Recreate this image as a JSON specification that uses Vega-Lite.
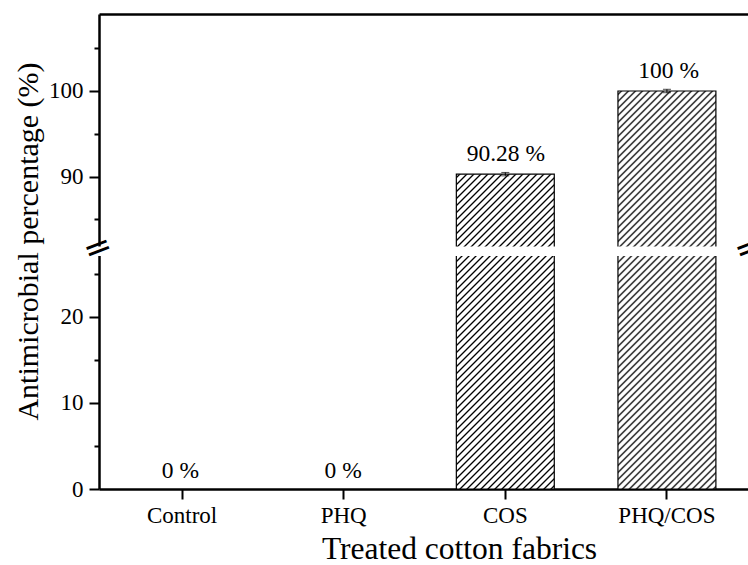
{
  "$schema": "https://vega.github.io/schema/vega-lite/v6.json",
  "width": 651,
  "height": 475,
  "autosize": {"type": "none"},
  "padding": {"left": 99, "top": 14, "right": 0, "bottom": 76},
  "background": "white",
  "config": {
    "view": {"stroke": null},
    "font": "Liberation Serif",
    "axis": {"labelFont": "Liberation Serif", "titleFont": "Liberation Serif", "labelColor": "black", "titleColor": "black", "titleFontWeight": "normal", "domainColor": "black", "tickColor": "black", "grid": false}
  },
  "data": {"values": [
    {"fabric": "Control", "value": 0, "lo": 0, "hi": 0, "label": "0 %"},
    {"fabric": "PHQ", "value": 0, "lo": 0, "hi": 0, "label": "0 %"},
    {"fabric": "COS", "value": 90.28, "lo": 90.08, "hi": 90.48, "label": "90.28 %"},
    {"fabric": "PHQ/COS", "value": 100, "lo": 99.8, "hi": 100.2, "label": "100 %"}
  ]},
  "layer": [
    {
      "transform": [{"filter": "datum.fabric === 'COS'"}],
      "mark": {"type": "bar", "stroke": "black", "strokeWidth": 1.2, "fill": {"gradient": "linear", "x1": 0, "y1": 0, "x2": 0.37822, "y2": 1.21636, "stops": [
        {"offset":0.0040,"color":"#fff"},{"offset":0.0083,"color":"#000"},{"offset":0.0126,"color":"#fff"},
        {"offset":0.0207,"color":"#fff"},{"offset":0.025,"color":"#000"},{"offset":0.0293,"color":"#fff"},
        {"offset":0.0374,"color":"#fff"},{"offset":0.0417,"color":"#000"},{"offset":0.0460,"color":"#fff"},
        {"offset":0.0540,"color":"#fff"},{"offset":0.0583,"color":"#000"},{"offset":0.0626,"color":"#fff"},
        {"offset":0.0707,"color":"#fff"},{"offset":0.075,"color":"#000"},{"offset":0.0793,"color":"#fff"},
        {"offset":0.0874,"color":"#fff"},{"offset":0.0917,"color":"#000"},{"offset":0.0960,"color":"#fff"},
        {"offset":0.1040,"color":"#fff"},{"offset":0.1083,"color":"#000"},{"offset":0.1126,"color":"#fff"},
        {"offset":0.1207,"color":"#fff"},{"offset":0.125,"color":"#000"},{"offset":0.1293,"color":"#fff"},
        {"offset":0.1374,"color":"#fff"},{"offset":0.1417,"color":"#000"},{"offset":0.1460,"color":"#fff"},
        {"offset":0.1540,"color":"#fff"},{"offset":0.1583,"color":"#000"},{"offset":0.1626,"color":"#fff"},
        {"offset":0.1707,"color":"#fff"},{"offset":0.175,"color":"#000"},{"offset":0.1793,"color":"#fff"},
        {"offset":0.1874,"color":"#fff"},{"offset":0.1917,"color":"#000"},{"offset":0.1960,"color":"#fff"},
        {"offset":0.2040,"color":"#fff"},{"offset":0.2083,"color":"#000"},{"offset":0.2126,"color":"#fff"},
        {"offset":0.2207,"color":"#fff"},{"offset":0.225,"color":"#000"},{"offset":0.2293,"color":"#fff"},
        {"offset":0.2374,"color":"#fff"},{"offset":0.2417,"color":"#000"},{"offset":0.2460,"color":"#fff"},
        {"offset":0.2540,"color":"#fff"},{"offset":0.2583,"color":"#000"},{"offset":0.2626,"color":"#fff"},
        {"offset":0.2707,"color":"#fff"},{"offset":0.275,"color":"#000"},{"offset":0.2793,"color":"#fff"},
        {"offset":0.2874,"color":"#fff"},{"offset":0.2917,"color":"#000"},{"offset":0.2960,"color":"#fff"},
        {"offset":0.3040,"color":"#fff"},{"offset":0.3083,"color":"#000"},{"offset":0.3126,"color":"#fff"},
        {"offset":0.3207,"color":"#fff"},{"offset":0.325,"color":"#000"},{"offset":0.3293,"color":"#fff"},
        {"offset":0.3374,"color":"#fff"},{"offset":0.3417,"color":"#000"},{"offset":0.3460,"color":"#fff"},
        {"offset":0.3540,"color":"#fff"},{"offset":0.3583,"color":"#000"},{"offset":0.3626,"color":"#fff"},
        {"offset":0.3707,"color":"#fff"},{"offset":0.375,"color":"#000"},{"offset":0.3793,"color":"#fff"},
        {"offset":0.3874,"color":"#fff"},{"offset":0.3917,"color":"#000"},{"offset":0.3960,"color":"#fff"},
        {"offset":0.4040,"color":"#fff"},{"offset":0.4083,"color":"#000"},{"offset":0.4126,"color":"#fff"},
        {"offset":0.4207,"color":"#fff"},{"offset":0.425,"color":"#000"},{"offset":0.4293,"color":"#fff"},
        {"offset":0.4374,"color":"#fff"},{"offset":0.4417,"color":"#000"},{"offset":0.4460,"color":"#fff"},
        {"offset":0.4540,"color":"#fff"},{"offset":0.4583,"color":"#000"},{"offset":0.4626,"color":"#fff"},
        {"offset":0.4707,"color":"#fff"},{"offset":0.475,"color":"#000"},{"offset":0.4793,"color":"#fff"},
        {"offset":0.4874,"color":"#fff"},{"offset":0.4917,"color":"#000"},{"offset":0.4960,"color":"#fff"},
        {"offset":0.5040,"color":"#fff"},{"offset":0.5083,"color":"#000"},{"offset":0.5126,"color":"#fff"},
        {"offset":0.5207,"color":"#fff"},{"offset":0.525,"color":"#000"},{"offset":0.5293,"color":"#fff"},
        {"offset":0.5374,"color":"#fff"},{"offset":0.5417,"color":"#000"},{"offset":0.5460,"color":"#fff"},
        {"offset":0.5540,"color":"#fff"},{"offset":0.5583,"color":"#000"},{"offset":0.5626,"color":"#fff"},
        {"offset":0.5707,"color":"#fff"},{"offset":0.575,"color":"#000"},{"offset":0.5793,"color":"#fff"},
        {"offset":0.5874,"color":"#fff"},{"offset":0.5917,"color":"#000"},{"offset":0.5960,"color":"#fff"},
        {"offset":0.6040,"color":"#fff"},{"offset":0.6083,"color":"#000"},{"offset":0.6126,"color":"#fff"},
        {"offset":0.6207,"color":"#fff"},{"offset":0.625,"color":"#000"},{"offset":0.6293,"color":"#fff"},
        {"offset":0.6374,"color":"#fff"},{"offset":0.6417,"color":"#000"},{"offset":0.6460,"color":"#fff"},
        {"offset":0.6540,"color":"#fff"},{"offset":0.6583,"color":"#000"},{"offset":0.6626,"color":"#fff"},
        {"offset":0.6707,"color":"#fff"},{"offset":0.675,"color":"#000"},{"offset":0.6793,"color":"#fff"},
        {"offset":0.6874,"color":"#fff"},{"offset":0.6917,"color":"#000"},{"offset":0.6960,"color":"#fff"},
        {"offset":0.7040,"color":"#fff"},{"offset":0.7083,"color":"#000"},{"offset":0.7126,"color":"#fff"},
        {"offset":0.7207,"color":"#fff"},{"offset":0.725,"color":"#000"},{"offset":0.7293,"color":"#fff"},
        {"offset":0.7374,"color":"#fff"},{"offset":0.7417,"color":"#000"},{"offset":0.7460,"color":"#fff"},
        {"offset":0.7540,"color":"#fff"},{"offset":0.7583,"color":"#000"},{"offset":0.7626,"color":"#fff"},
        {"offset":0.7707,"color":"#fff"},{"offset":0.775,"color":"#000"},{"offset":0.7793,"color":"#fff"},
        {"offset":0.7874,"color":"#fff"},{"offset":0.7917,"color":"#000"},{"offset":0.7960,"color":"#fff"},
        {"offset":0.8040,"color":"#fff"},{"offset":0.8083,"color":"#000"},{"offset":0.8126,"color":"#fff"},
        {"offset":0.8207,"color":"#fff"},{"offset":0.825,"color":"#000"},{"offset":0.8293,"color":"#fff"},
        {"offset":0.8374,"color":"#fff"},{"offset":0.8417,"color":"#000"},{"offset":0.8460,"color":"#fff"},
        {"offset":0.8540,"color":"#fff"},{"offset":0.8583,"color":"#000"},{"offset":0.8626,"color":"#fff"},
        {"offset":0.8707,"color":"#fff"},{"offset":0.875,"color":"#000"},{"offset":0.8793,"color":"#fff"},
        {"offset":0.8874,"color":"#fff"},{"offset":0.8917,"color":"#000"},{"offset":0.8960,"color":"#fff"},
        {"offset":0.9040,"color":"#fff"},{"offset":0.9083,"color":"#000"},{"offset":0.9126,"color":"#fff"},
        {"offset":0.9207,"color":"#fff"},{"offset":0.925,"color":"#000"},{"offset":0.9293,"color":"#fff"},
        {"offset":0.9374,"color":"#fff"},{"offset":0.9417,"color":"#000"},{"offset":0.9460,"color":"#fff"},
        {"offset":0.9540,"color":"#fff"},{"offset":0.9583,"color":"#000"},{"offset":0.9626,"color":"#fff"},
        {"offset":0.9707,"color":"#fff"},{"offset":0.975,"color":"#000"},{"offset":0.9793,"color":"#fff"},
        {"offset":0.9874,"color":"#fff"},{"offset":0.9917,"color":"#000"},{"offset":0.9960,"color":"#fff"}
      ]}},
      "encoding": {
        "x": {"field": "fabric", "type": "nominal", "sort": null,
              "scale": {"domain": ["Control", "PHQ", "COS", "PHQ/COS"], "paddingInner": 0.394, "paddingOuter": 0.211},
              "axis": {"orient": "bottom", "title": "Treated cotton fabrics", "labelAngle": 0, "tickSize": 10, "tickWidth": 2, "domainWidth": 2.5, "labelFontSize": 23, "labelPadding": 5, "titleFontSize": 31.5, "titlePadding": 6, "titleX": 360}},
        "y": {"field": "value", "type": "quantitative",
              "scale": {"domain": [0, 27.3, 81.59, 109], "range": [475, 240, 234.5, 0], "zero": false, "nice": false},
              "axis": {"orient": "left", "values": [0, 5, 10, 15, 20, 25, 85, 90, 95, 100, 105],
                       "labelExpr": "datum.value % 10 === 0 ? datum.label : ''",
                       "tickSize": {"condition": {"test": "datum.value % 10 === 0", "value": 10}, "value": 5},
                       "tickWidth": 2, "domainWidth": 2.5, "labelFontSize": 23, "labelPadding": 6,
                       "title": "Antimicrobial percentage (%)", "titleFontSize": 30, "titlePadding": 5, "titleY": 227}}
      }
    },
    {
      "transform": [{"filter": "datum.fabric === 'PHQ/COS'"}],
      "mark": {"type": "bar", "stroke": "black", "strokeWidth": 1.2, "fill": {"gradient": "linear", "x1": 0, "y1": 0, "x2": 0.29372, "y2": 1.19408, "stops": [
        {"offset":0.00337,"color":"#fff"},{"offset":0.00694,"color":"#000"},{"offset":0.01052,"color":"#fff"},
        {"offset":0.01726,"color":"#fff"},{"offset":0.02083,"color":"#000"},{"offset":0.0244,"color":"#fff"},
        {"offset":0.03115,"color":"#fff"},{"offset":0.03472,"color":"#000"},{"offset":0.03829,"color":"#fff"},
        {"offset":0.04504,"color":"#fff"},{"offset":0.04861,"color":"#000"},{"offset":0.05218,"color":"#fff"},
        {"offset":0.05893,"color":"#fff"},{"offset":0.0625,"color":"#000"},{"offset":0.06607,"color":"#fff"},
        {"offset":0.07282,"color":"#fff"},{"offset":0.07639,"color":"#000"},{"offset":0.07996,"color":"#fff"},
        {"offset":0.08671,"color":"#fff"},{"offset":0.09028,"color":"#000"},{"offset":0.09385,"color":"#fff"},
        {"offset":0.1006,"color":"#fff"},{"offset":0.10417,"color":"#000"},{"offset":0.10774,"color":"#fff"},
        {"offset":0.11449,"color":"#fff"},{"offset":0.11806,"color":"#000"},{"offset":0.12163,"color":"#fff"},
        {"offset":0.12837,"color":"#fff"},{"offset":0.13194,"color":"#000"},{"offset":0.13552,"color":"#fff"},
        {"offset":0.14226,"color":"#fff"},{"offset":0.14583,"color":"#000"},{"offset":0.1494,"color":"#fff"},
        {"offset":0.15615,"color":"#fff"},{"offset":0.15972,"color":"#000"},{"offset":0.16329,"color":"#fff"},
        {"offset":0.17004,"color":"#fff"},{"offset":0.17361,"color":"#000"},{"offset":0.17718,"color":"#fff"},
        {"offset":0.18393,"color":"#fff"},{"offset":0.1875,"color":"#000"},{"offset":0.19107,"color":"#fff"},
        {"offset":0.19782,"color":"#fff"},{"offset":0.20139,"color":"#000"},{"offset":0.20496,"color":"#fff"},
        {"offset":0.21171,"color":"#fff"},{"offset":0.21528,"color":"#000"},{"offset":0.21885,"color":"#fff"},
        {"offset":0.2256,"color":"#fff"},{"offset":0.22917,"color":"#000"},{"offset":0.23274,"color":"#fff"},
        {"offset":0.23949,"color":"#fff"},{"offset":0.24306,"color":"#000"},{"offset":0.24663,"color":"#fff"},
        {"offset":0.25337,"color":"#fff"},{"offset":0.25694,"color":"#000"},{"offset":0.26052,"color":"#fff"},
        {"offset":0.26726,"color":"#fff"},{"offset":0.27083,"color":"#000"},{"offset":0.2744,"color":"#fff"},
        {"offset":0.28115,"color":"#fff"},{"offset":0.28472,"color":"#000"},{"offset":0.28829,"color":"#fff"},
        {"offset":0.29504,"color":"#fff"},{"offset":0.29861,"color":"#000"},{"offset":0.30218,"color":"#fff"},
        {"offset":0.30893,"color":"#fff"},{"offset":0.3125,"color":"#000"},{"offset":0.31607,"color":"#fff"},
        {"offset":0.32282,"color":"#fff"},{"offset":0.32639,"color":"#000"},{"offset":0.32996,"color":"#fff"},
        {"offset":0.33671,"color":"#fff"},{"offset":0.34028,"color":"#000"},{"offset":0.34385,"color":"#fff"},
        {"offset":0.3506,"color":"#fff"},{"offset":0.35417,"color":"#000"},{"offset":0.35774,"color":"#fff"},
        {"offset":0.36449,"color":"#fff"},{"offset":0.36806,"color":"#000"},{"offset":0.37163,"color":"#fff"},
        {"offset":0.37837,"color":"#fff"},{"offset":0.38194,"color":"#000"},{"offset":0.38552,"color":"#fff"},
        {"offset":0.39226,"color":"#fff"},{"offset":0.39583,"color":"#000"},{"offset":0.3994,"color":"#fff"},
        {"offset":0.40615,"color":"#fff"},{"offset":0.40972,"color":"#000"},{"offset":0.41329,"color":"#fff"},
        {"offset":0.42004,"color":"#fff"},{"offset":0.42361,"color":"#000"},{"offset":0.42718,"color":"#fff"},
        {"offset":0.43393,"color":"#fff"},{"offset":0.4375,"color":"#000"},{"offset":0.44107,"color":"#fff"},
        {"offset":0.44782,"color":"#fff"},{"offset":0.45139,"color":"#000"},{"offset":0.45496,"color":"#fff"},
        {"offset":0.46171,"color":"#fff"},{"offset":0.46528,"color":"#000"},{"offset":0.46885,"color":"#fff"},
        {"offset":0.4756,"color":"#fff"},{"offset":0.47917,"color":"#000"},{"offset":0.48274,"color":"#fff"},
        {"offset":0.48949,"color":"#fff"},{"offset":0.49306,"color":"#000"},{"offset":0.49663,"color":"#fff"},
        {"offset":0.50337,"color":"#fff"},{"offset":0.50694,"color":"#000"},{"offset":0.51052,"color":"#fff"},
        {"offset":0.51726,"color":"#fff"},{"offset":0.52083,"color":"#000"},{"offset":0.5244,"color":"#fff"},
        {"offset":0.53115,"color":"#fff"},{"offset":0.53472,"color":"#000"},{"offset":0.53829,"color":"#fff"},
        {"offset":0.54504,"color":"#fff"},{"offset":0.54861,"color":"#000"},{"offset":0.55218,"color":"#fff"},
        {"offset":0.55893,"color":"#fff"},{"offset":0.5625,"color":"#000"},{"offset":0.56607,"color":"#fff"},
        {"offset":0.57282,"color":"#fff"},{"offset":0.57639,"color":"#000"},{"offset":0.57996,"color":"#fff"},
        {"offset":0.58671,"color":"#fff"},{"offset":0.59028,"color":"#000"},{"offset":0.59385,"color":"#fff"},
        {"offset":0.6006,"color":"#fff"},{"offset":0.60417,"color":"#000"},{"offset":0.60774,"color":"#fff"},
        {"offset":0.61449,"color":"#fff"},{"offset":0.61806,"color":"#000"},{"offset":0.62163,"color":"#fff"},
        {"offset":0.62837,"color":"#fff"},{"offset":0.63194,"color":"#000"},{"offset":0.63552,"color":"#fff"},
        {"offset":0.64226,"color":"#fff"},{"offset":0.64583,"color":"#000"},{"offset":0.6494,"color":"#fff"},
        {"offset":0.65615,"color":"#fff"},{"offset":0.65972,"color":"#000"},{"offset":0.66329,"color":"#fff"},
        {"offset":0.67004,"color":"#fff"},{"offset":0.67361,"color":"#000"},{"offset":0.67718,"color":"#fff"},
        {"offset":0.68393,"color":"#fff"},{"offset":0.6875,"color":"#000"},{"offset":0.69107,"color":"#fff"},
        {"offset":0.69782,"color":"#fff"},{"offset":0.70139,"color":"#000"},{"offset":0.70496,"color":"#fff"},
        {"offset":0.71171,"color":"#fff"},{"offset":0.71528,"color":"#000"},{"offset":0.71885,"color":"#fff"},
        {"offset":0.7256,"color":"#fff"},{"offset":0.72917,"color":"#000"},{"offset":0.73274,"color":"#fff"},
        {"offset":0.73949,"color":"#fff"},{"offset":0.74306,"color":"#000"},{"offset":0.74663,"color":"#fff"},
        {"offset":0.75337,"color":"#fff"},{"offset":0.75694,"color":"#000"},{"offset":0.76052,"color":"#fff"},
        {"offset":0.76726,"color":"#fff"},{"offset":0.77083,"color":"#000"},{"offset":0.7744,"color":"#fff"},
        {"offset":0.78115,"color":"#fff"},{"offset":0.78472,"color":"#000"},{"offset":0.78829,"color":"#fff"},
        {"offset":0.79504,"color":"#fff"},{"offset":0.79861,"color":"#000"},{"offset":0.80218,"color":"#fff"},
        {"offset":0.80893,"color":"#fff"},{"offset":0.8125,"color":"#000"},{"offset":0.81607,"color":"#fff"},
        {"offset":0.82282,"color":"#fff"},{"offset":0.82639,"color":"#000"},{"offset":0.82996,"color":"#fff"},
        {"offset":0.83671,"color":"#fff"},{"offset":0.84028,"color":"#000"},{"offset":0.84385,"color":"#fff"},
        {"offset":0.8506,"color":"#fff"},{"offset":0.85417,"color":"#000"},{"offset":0.85774,"color":"#fff"},
        {"offset":0.86449,"color":"#fff"},{"offset":0.86806,"color":"#000"},{"offset":0.87163,"color":"#fff"},
        {"offset":0.87837,"color":"#fff"},{"offset":0.88194,"color":"#000"},{"offset":0.88552,"color":"#fff"},
        {"offset":0.89226,"color":"#fff"},{"offset":0.89583,"color":"#000"},{"offset":0.8994,"color":"#fff"},
        {"offset":0.90615,"color":"#fff"},{"offset":0.90972,"color":"#000"},{"offset":0.91329,"color":"#fff"},
        {"offset":0.92004,"color":"#fff"},{"offset":0.92361,"color":"#000"},{"offset":0.92718,"color":"#fff"},
        {"offset":0.93393,"color":"#fff"},{"offset":0.9375,"color":"#000"},{"offset":0.94107,"color":"#fff"},
        {"offset":0.94782,"color":"#fff"},{"offset":0.95139,"color":"#000"},{"offset":0.95496,"color":"#fff"},
        {"offset":0.96171,"color":"#fff"},{"offset":0.96528,"color":"#000"},{"offset":0.96885,"color":"#fff"},
        {"offset":0.9756,"color":"#fff"},{"offset":0.97917,"color":"#000"},{"offset":0.98274,"color":"#fff"},
        {"offset":0.98949,"color":"#fff"},{"offset":0.99306,"color":"#000"},{"offset":0.99663,"color":"#fff"}
      ]}},
      "encoding": {
        "x": {"field": "fabric", "type": "nominal", "sort": null,
              "scale": {"domain": ["Control", "PHQ", "COS", "PHQ/COS"], "paddingInner": 0.394, "paddingOuter": 0.211},
              "axis": null},
        "y": {"field": "value", "type": "quantitative",
              "scale": {"domain": [0, 27.3, 81.59, 109], "range": [475, 240, 234.5, 0], "zero": false, "nice": false},
              "axis": null}
      }
    },
    {
      "transform": [{"filter": "datum.hi > datum.lo"}],
      "mark": {"type": "rule", "color": "black", "strokeWidth": 1},
      "encoding": {
        "x": {"field": "fabric", "type": "nominal", "sort": null,
              "scale": {"domain": ["Control", "PHQ", "COS", "PHQ/COS"], "paddingInner": 0.394, "paddingOuter": 0.211},
              "axis": {"orient": "top", "domainWidth": 2.5, "ticks": false, "labels": false, "title": null}},
        "y": {"field": "lo", "type": "quantitative",
              "scale": {"domain": [0, 27.3, 81.59, 109], "range": [475, 240, 234.5, 0], "zero": false, "nice": false},
              "axis": {"orient": "right", "domainWidth": 2.5, "ticks": false, "labels": false, "title": null}},
        "y2": {"field": "hi"}
      }
    },
    {
      "transform": [{"filter": "datum.hi > datum.lo"}],
      "mark": {"type": "tick", "color": "black", "thickness": 1, "size": 8},
      "encoding": {
        "x": {"field": "fabric", "type": "nominal", "sort": null,
              "scale": {"domain": ["Control", "PHQ", "COS", "PHQ/COS"], "paddingInner": 0.394, "paddingOuter": 0.211},
              "axis": null},
        "y": {"field": "lo", "type": "quantitative",
              "scale": {"domain": [0, 27.3, 81.59, 109], "range": [475, 240, 234.5, 0], "zero": false, "nice": false},
              "axis": null}
      }
    },
    {
      "transform": [{"filter": "datum.hi > datum.lo"}],
      "mark": {"type": "tick", "color": "black", "thickness": 1, "size": 8},
      "encoding": {
        "x": {"field": "fabric", "type": "nominal", "sort": null,
              "scale": {"domain": ["Control", "PHQ", "COS", "PHQ/COS"], "paddingInner": 0.394, "paddingOuter": 0.211},
              "axis": null},
        "y": {"field": "hi", "type": "quantitative",
              "scale": {"domain": [0, 27.3, 81.59, 109], "range": [475, 240, 234.5, 0], "zero": false, "nice": false},
              "axis": null}
      }
    },
    {
      "mark": {"type": "text", "font": "Liberation Serif", "fontSize": 23.5, "baseline": "alphabetic", "dy": -11, "color": "black"},
      "encoding": {
        "x": {"field": "fabric", "type": "nominal", "sort": null,
              "scale": {"domain": ["Control", "PHQ", "COS", "PHQ/COS"], "paddingInner": 0.394, "paddingOuter": 0.211},
              "axis": null},
        "y": {"field": "hi", "type": "quantitative",
              "scale": {"domain": [0, 27.3, 81.59, 109], "range": [475, 240, 234.5, 0], "zero": false, "nice": false},
              "axis": null},
        "text": {"field": "label"}
      }
    },
    {
      "data": {"values": [{"gap": "axis break"}]},
      "mark": {"type": "rect", "fill": "white", "stroke": "white", "strokeWidth": 4},
      "encoding": {
        "y": {"datum": 27.3, "type": "quantitative",
              "scale": {"domain": [0, 27.3, 81.59, 109], "range": [475, 240, 234.5, 0], "zero": false, "nice": false},
              "axis": null},
        "y2": {"datum": 81.59}
      }
    },
    {
      "data": {"values": [{"side": 0}, {"side": 1}]},
      "mark": {"type": "text", "text": "=", "font": "DejaVu Sans", "fontSize": 34, "angle": -21, "align": "center", "baseline": "middle", "dy": -3, "color": "black"},
      "encoding": {
        "x": {"field": "side", "type": "quantitative", "scale": {"domain": [0, 1], "nice": false, "zero": false}, "axis": null},
        "y": {"datum": 54.45, "type": "quantitative",
              "scale": {"domain": [0, 27.3, 81.59, 109], "range": [475, 240, 234.5, 0], "zero": false, "nice": false},
              "axis": null}
      }
    }
  ],
  "resolve": {"scale": {"x": "independent"}, "axis": {"x": "independent", "y": "independent"}}
}
